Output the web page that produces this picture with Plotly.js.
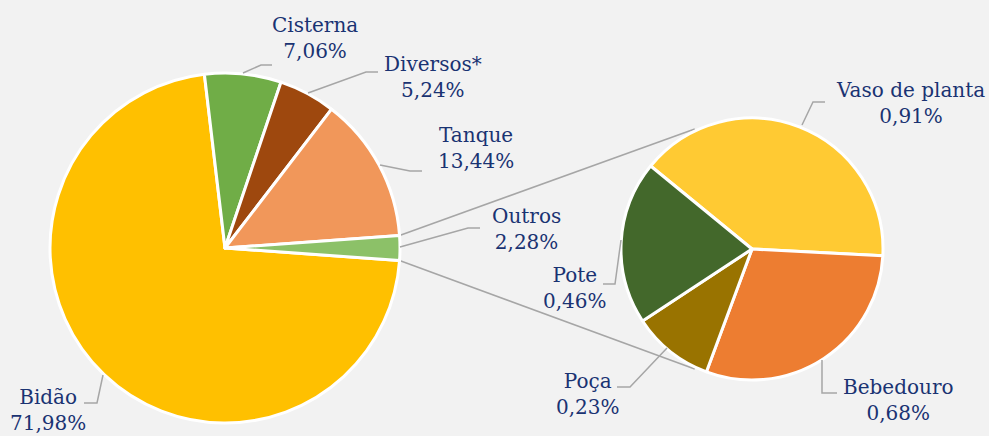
<!DOCTYPE html>
<html>
<head>
<meta charset="utf-8">
<script src="https://cdn.plot.ly/plotly-3.0.1.min.js"></script>
<style>html,body{margin:0;padding:0;background:#F2F2F2;}#chart{width:989px;height:436px;}</style>
</head>
<body>
<div id="chart"></div>
<script>
// ---- data ----
const mainLabels = ["Bidão", "Cisterna", "Diversos*", "Tanque", "Outros"];
const mainValues = [71.98, 7.06, 5.24, 13.44, 2.28];
const mainText = ["71,98%", "7,06%", "5,24%", "13,44%", "2,28%"];
const subLabels = ["Vaso de planta", "Bebedouro", "Poça", "Pote"];
const subValues = [0.91, 0.68, 0.23, 0.46];
const subText = ["0,91%", "0,68%", "0,23%", "0,46%"];

// ---- styles / layout ----
const mainColors = ["#FFC000", "#70AD47", "#9E480E", "#F1975A", "#8CC168"];
const subColors = ["#FFCA33", "#ED7D31", "#997300", "#43682B"];
const W = 989, H = 436;
const fontColor = "#1A3372";
const lineColor = "#A6A6A6";
const px = x => x / W;
const py = y => 1 - y / H;

// geometry of pies (pixels)
const mainC = [225, 248], mainR = 175;
const subC = [752, 249], subR = 131;

// rotation so that "Outros" is centred on the right (3 o'clock)
const mainTotal = mainValues.reduce((a, b) => a + b, 0);
const outrosIdx = mainLabels.indexOf("Outros");
const before = mainValues.slice(0, outrosIdx).reduce((a, b) => a + b, 0);
const outrosStart = before / mainTotal * 360;
const outrosSpan = mainValues[outrosIdx] / mainTotal * 360;
const mainRotation = 90 - (outrosStart + outrosSpan / 2);
const subRotation = 309.3 - 360;

function polar(c, r, deg) {
  const a = deg * Math.PI / 180;
  return [c[0] + r * Math.sin(a), c[1] - r * Math.cos(a)];
}

// connector lines between pies
const mTop = polar(mainC, mainR, 90 - outrosSpan / 2);
const mBot = polar(mainC, mainR, 90 + outrosSpan / 2);
const sTop = polar(subC, subR + 2, 334.5);
const sBot = polar(subC, subR + 2, 205.5);

function pathOf(pts) {
  return pts.map((p, i) => (i ? "L" : "M") + px(p[0]).toFixed(5) + "," + py(p[1]).toFixed(5)).join(" ");
}

const shapes = [
  {type: "path", xref: "paper", yref: "paper", path: pathOf([mTop, sTop]), line: {color: lineColor, width: 1.5}, layer: "below"},
  {type: "path", xref: "paper", yref: "paper", path: pathOf([mBot, sBot]), line: {color: lineColor, width: 1.5}, layer: "below"}
];

// leader lines (pixel positions of label callouts)
const leaders = [
  [[103, 375], [97, 403], [84, 403]],
  [[243, 73], [261, 65], [272, 65]],
  [[308, 93], [366, 72], [378, 72]],
  [[380, 165], [410, 171], [422, 171]],
  [[400, 247], [468, 228], [480, 228]],
  [[802, 125], [813, 102], [825, 102]],
  [[822, 360], [822, 393], [837, 393]],
  [[667, 348], [630, 387], [617, 387]],
  [[621, 240], [615, 284], [603, 284]]
];
leaders.forEach(p => shapes.push({type: "path", xref: "paper", yref: "paper", path: pathOf(p), line: {color: lineColor, width: 1.5}}));

// label anchor positions (pixels)
const mainLabelPos = [[48, 410], [315, 38], [433, 77], [476, 148], [526, 229]];
const subLabelPos = [[910, 103], [898, 400], [588, 394], [575, 288]];

const annotations = [];
function addLabels(labels, texts, pos) {
  labels.forEach((l, i) => annotations.push({
    xref: "paper", yref: "paper", x: px(pos[i][0]), y: py(pos[i][1]),
    xanchor: "center", yanchor: "middle", showarrow: false, align: "center",
    text: l + "<br>" + texts[i],
    font: {family: "DejaVu Serif", size: 20, color: fontColor}
  }));
}
addLabels(mainLabels, mainText, mainLabelPos);
addLabels(subLabels, subText, subLabelPos);

const traces = [
  {
    type: "pie", labels: mainLabels, values: mainValues, sort: false,
    direction: "clockwise", rotation: mainRotation, textinfo: "none", hoverinfo: "none",
    marker: {colors: mainColors, line: {color: "#FFFFFF", width: 3}},
    domain: {x: [px(mainC[0] - mainR), px(mainC[0] + mainR)], y: [py(mainC[1] + mainR), py(mainC[1] - mainR)]},
    showlegend: false
  },
  {
    type: "pie", labels: subLabels, values: subValues, sort: false,
    direction: "clockwise", rotation: subRotation, textinfo: "none", hoverinfo: "none",
    marker: {colors: subColors, line: {color: "#FFFFFF", width: 3}},
    domain: {x: [px(subC[0] - subR), px(subC[0] + subR)], y: [py(subC[1] + subR), py(subC[1] - subR)]},
    showlegend: false
  }
];

const layout = {
  width: W, height: H,
  margin: {l: 0, r: 0, t: 0, b: 0},
  paper_bgcolor: "#F2F2F2", plot_bgcolor: "#F2F2F2",
  showlegend: false,
  shapes: shapes, annotations: annotations
};

Plotly.newPlot("chart", traces, layout, {displayModeBar: false, staticPlot: true});
</script>
</body>
</html>
